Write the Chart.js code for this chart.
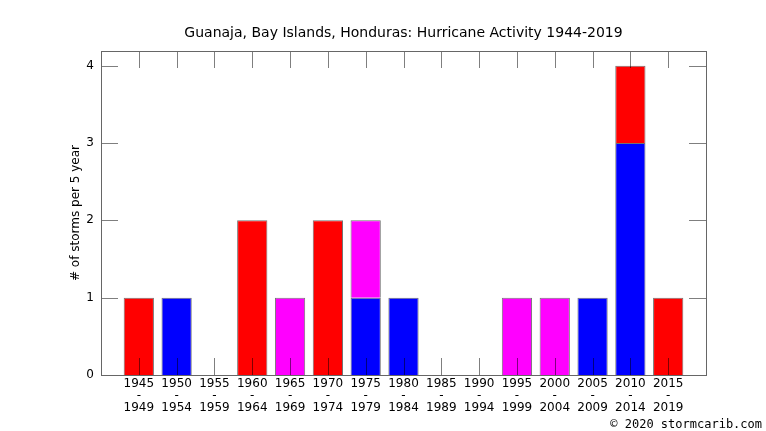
<!DOCTYPE html>
<html>
<head>
<meta charset="utf-8">
<script src="https://cdn.jsdelivr.net/npm/chart.js@4/dist/chart.umd.min.js"></script>
<style>
  html, body { margin: 0; padding: 0; background: #fff; }
  #wrap { width: 766px; height: 431px; }
</style>
</head>
<body>
<div id="wrap"><canvas id="chart" width="766" height="431"></canvas></div>
<script>
// periods (start / end year of each 5 year bin)
const periodStart = [1945, 1950, 1955, 1960, 1965, 1970, 1975, 1980, 1985, 1990, 1995, 2000, 2005, 2010, 2015];
const periodEnd   = [1949, 1954, 1959, 1964, 1969, 1974, 1979, 1984, 1989, 1994, 1999, 2004, 2009, 2014, 2019];

// storms per period, stacked bottom to top: blue, magenta, red
const blueStorms    = [0, 1, 0, 0, 0, 0, 1, 1, 0, 0, 0, 0, 1, 3, 0];
const magentaStorms = [0, 0, 0, 0, 1, 0, 1, 0, 0, 0, 1, 1, 0, 0, 0];
const redStorms     = [1, 0, 0, 2, 0, 2, 0, 0, 0, 0, 0, 0, 0, 1, 1];

const yTicks = [0, 1, 2, 3, 4];

const titleText = 'Guanaja, Bay Islands, Honduras: Hurricane Activity 1944-2019';

// one empty slot each side so the axis runs 1940..2020
const labels = [''].concat(
    periodStart.map((s, i) => [String(s), '-', String(periodEnd[i])]),
    ['']
);

function pad(values) {
    return [null].concat(values.map(v => v || null), [null]);
}

const tickMarks = {
    id: 'tickMarks',
    afterDatasetsDraw(chart) {
        const ctx = chart.ctx;
        const a = chart.chartArea;
        const x = chart.scales.x;
        const y = chart.scales.y;
        const len = 17;

        ctx.save();
        ctx.lineWidth = 1;
        ctx.strokeStyle = 'rgba(0,0,0,0.5)';
        ctx.beginPath();
        for (let i = 1; i <= periodStart.length; i++) {
            const px = Math.round(x.getPixelForValue(i)) + 0.5;
            ctx.moveTo(px, a.bottom);
            ctx.lineTo(px, a.bottom - len);
            ctx.moveTo(px, a.top);
            ctx.lineTo(px, a.top + len);
        }
        yTicks.forEach(v => {
            const py = Math.round(y.getPixelForValue(v)) + 0.5;
            ctx.moveTo(a.left, py);
            ctx.lineTo(a.left + len, py);
            ctx.moveTo(a.right, py);
            ctx.lineTo(a.right - len, py);
        });
        ctx.stroke();

        // frame
        ctx.strokeStyle = '#666';
        ctx.strokeRect(Math.round(a.left) + 0.5, Math.round(a.top) + 0.5,
            Math.round(a.right - a.left), Math.round(a.bottom - a.top));

        ctx.fillStyle = '#000';
        ctx.textAlign = 'center';
        ctx.textBaseline = 'middle';

        // title, centred over the plot
        ctx.font = '14px "DejaVu Sans"';
        ctx.fillText(titleText, (a.left + a.right) / 2, 33);

        // y axis title
        ctx.font = '12px "DejaVu Sans"';
        ctx.translate(76, (a.top + a.bottom) / 2);
        ctx.rotate(-Math.PI / 2);
        ctx.fillText('# of storms per 5 year', 0, 0);
        ctx.restore();

        // credit
        ctx.save();
        ctx.fillStyle = '#000';
        ctx.font = '12px "DejaVu Sans Mono"';
        ctx.textAlign = 'right';
        ctx.textBaseline = 'middle';
        ctx.fillText('\u00a9 2020 stormcarib.com', 762, 425);
        ctx.restore();
    }
};

new Chart(
    document.getElementById('chart'),
    {
        type: 'bar',
        data: {
            labels: labels,
            datasets: [
                { data: pad(blueStorms),    backgroundColor: '#0000ff' },
                { data: pad(magentaStorms), backgroundColor: '#ff00ff' },
                { data: pad(redStorms),     backgroundColor: '#ff0000' }
            ]
        },
        options: {
            responsive: false,
            animation: false,
            devicePixelRatio: 1,
            datasets: {
                bar: {
                    borderColor: 'rgba(0,0,0,0.55)',
                    borderWidth: 1,
                    barPercentage: 1,
                    categoryPercentage: 0.8
                }
            },
            layout: { padding: { left: 0, right: 60, top: 51, bottom: 0 } },
            plugins: {
                legend: { display: false },
                tooltip: { enabled: false },
                title: { display: false }
            },
            scales: {
                x: {
                    stacked: true,
                    offset: false,
                    grid: { display: false, drawTicks: false },
                    border: { display: false },
                    ticks: {
                        color: '#000',
                        autoSkip: false,
                        maxRotation: 0,
                        padding: 3,
                        font: { family: 'DejaVu Sans', size: 12, lineHeight: '12px' }
                    },
                    afterFit: s => { s.height = 56; }
                },
                y: {
                    stacked: true,
                    min: 0,
                    max: 4.19,
                    grid: { display: false, drawTicks: false },
                    border: { display: false },
                    ticks: {
                        color: '#000',
                        padding: 7,
                        font: { family: 'DejaVu Sans', size: 12 }
                    },
                    afterBuildTicks: s => { s.ticks = yTicks.map(v => ({ value: v })); },
                    afterFit: s => { s.width = 101; }
                }
            }
        },
        plugins: [tickMarks]
    }
);
</script>
</body>
</html>
